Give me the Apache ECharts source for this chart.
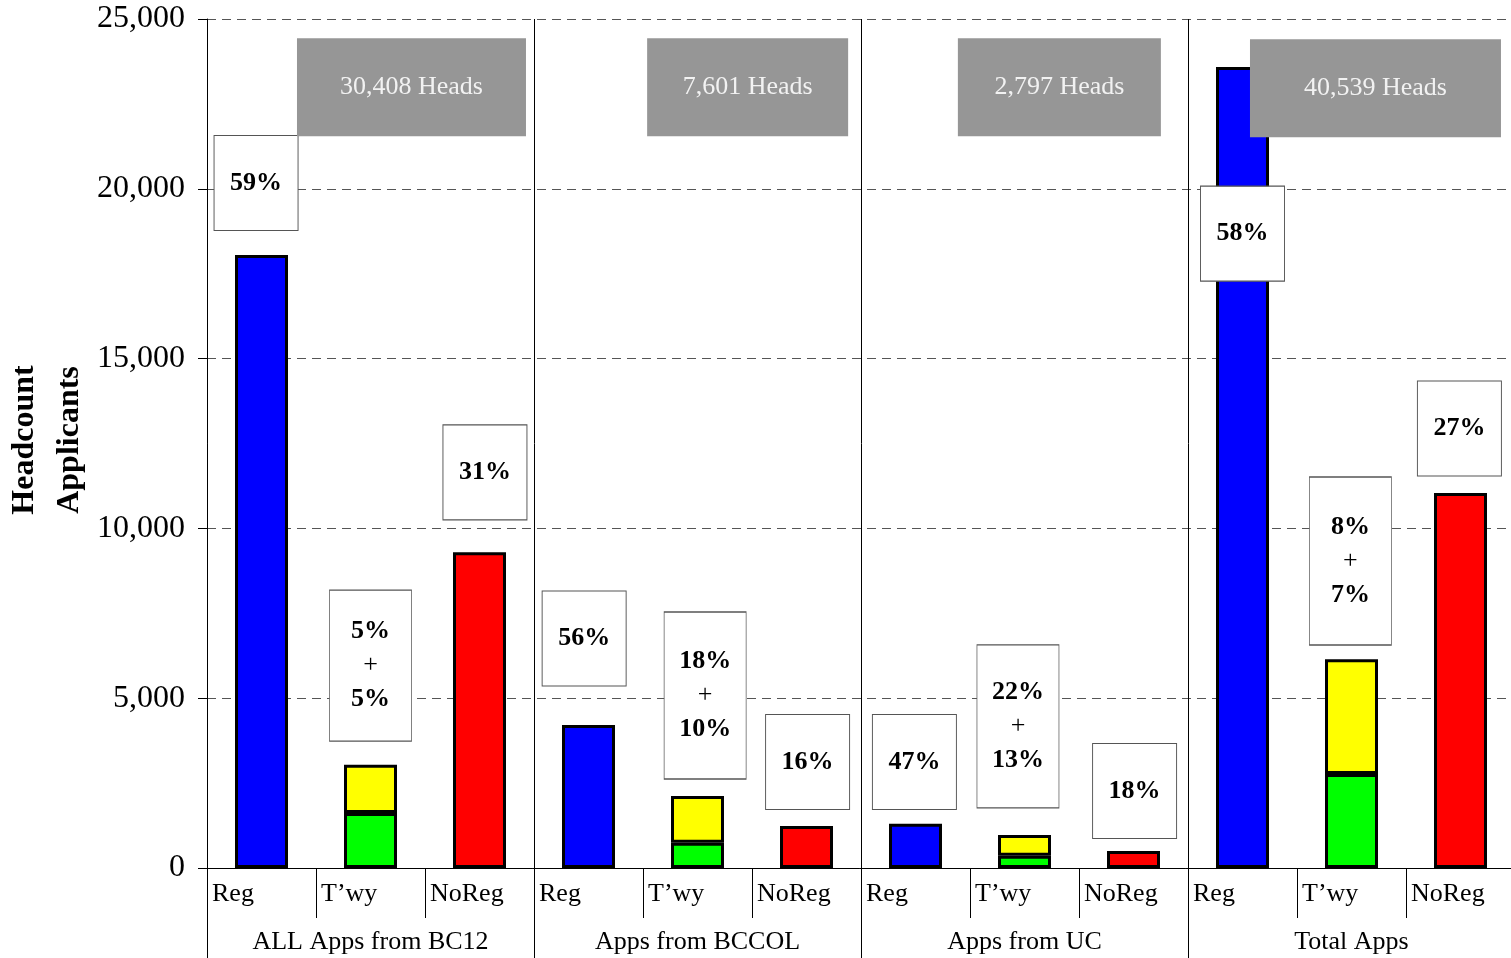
<!DOCTYPE html>
<html>
<head>
<meta charset="utf-8">
<script src="https://cdn.jsdelivr.net/npm/echarts@6/dist/echarts.min.js"></script>
<style>
html,body{margin:0;padding:0;background:#fff;}
#chart{width:1511px;height:958px;}
</style>
</head>
<body>
<div id="chart"></div>
<script>
// ---- data ----
const groups = ['ALL Apps from BC12', 'Apps from BCCOL', 'Apps from UC', 'Total Apps'];
const subCats = ['Reg', 'T\u2019wy', 'NoReg'];
const regValues = [18050, 4210, 1300, 23590];
const twyLower = [1620, 740, 360, 2770];   // green
const twyUpper = [1420, 1380, 610, 3380];  // yellow
const noRegValues = [9300, 1240, 500, 11040];
const headsLabels = ['30,408 Heads', '7,601 Heads', '2,797 Heads', '40,539 Heads'];
const regPct = ['59%', '56%', '47%', '58%'];
const twyPctTop = ['5%', '18%', '22%', '8%'];
const twyPctBottom = ['5%', '10%', '13%', '7%'];
const noRegPct = ['31%', '16%', '18%', '27%'];
const yTicks = [0, 5000, 10000, 15000, 20000, 25000];
const yTitle = 'Headcount\nApplicants';

// annotation anchor positions (x in category units, y in data units)
const regBoxPos = [[0.45, 20170], [3.46, 6760], [6.49, 3120], [9.50, 18680]];
const twyBoxPos = [[1.50, 5960], [4.57, 5080], [7.44, 4170], [10.49, 9040]];
const noRegBoxPos = [[2.55, 11650], [5.51, 3120], [8.51, 2270], [11.49, 12940]];
const headsBoxPos = [[1.876, 22990], [4.96, 22990], [7.82, 22990], [10.72, 22960]];
const twyBoxHeights = [151, 167, 163, 168];
const headsBoxWidths = [229, 201, 203, 251];

// ---- build ----
const COLORS = { reg: '#0000ff', low: '#00ff00', up: '#ffff00', noreg: '#ff0000' };
const cats = [];
const baseData = [];
const topData = [];
groups.forEach((g, i) => {
  subCats.forEach(s => cats.push(s));
  baseData.push({ value: regValues[i], itemStyle: { color: COLORS.reg } });
  baseData.push({ value: twyLower[i], itemStyle: { color: COLORS.low } });
  baseData.push({ value: noRegValues[i], itemStyle: { color: COLORS.noreg } });
  topData.push('-');
  topData.push({ value: twyUpper[i], itemStyle: { color: COLORS.up } });
  topData.push('-');
});

const boxData = [];
for (let i = 0; i < 4; i++) {
  boxData.push({ value: regBoxPos[i], symbolSize: [84, 95], label: { formatter: '{p|' + regPct[i] + '}' } });
  boxData.push({ value: twyBoxPos[i], symbolSize: [82, twyBoxHeights[i]],
    label: { formatter: '{p|' + twyPctTop[i] + '}\n{plus|+}\n{p|' + twyPctBottom[i] + '}' } });
  boxData.push({ value: noRegBoxPos[i], symbolSize: [84, 95], label: { formatter: '{p|' + noRegPct[i] + '}' } });
}
const headsData = headsBoxPos.map((p, i) => ({
  value: p, symbolSize: [headsBoxWidths[i], 98], label: { formatter: headsLabels[i] }
}));

const FONT = '"Liberation Serif", "Times New Roman", serif';

const chart = echarts.init(document.getElementById('chart'), null, { renderer: 'canvas' });
chart.setOption({
  animation: false,
  backgroundColor: '#fff',
  textStyle: { fontFamily: FONT },
  grid: { left: 207, right: -4, top: 19, bottom: 90, containLabel: false, outerBoundsMode: 'none' },
  graphic: [{
    type: 'text', x: 47, y: 440, rotation: Math.PI / 2, silent: true,
    style: { text: yTitle, fill: '#000', font: 'bold 32px ' + FONT, align: 'center', verticalAlign: 'middle', lineHeight: 45 }
  }],
  xAxis: [
    {
      type: 'category', data: cats, position: 'bottom',
      axisLine: { show: true, lineStyle: { color: '#000', width: 1 } },
      axisTick: { show: true, interval: 0, length: 50, lineStyle: { color: '#000', width: 1 } },
      axisLabel: {
        interval: 0, margin: 13, color: '#000', fontFamily: FONT, fontSize: 26,
        formatter: v => '{a|' + v + '}',
        rich: { a: { width: 99, align: 'left', fontFamily: FONT, fontSize: 26, color: '#000' } }
      },
      splitLine: { show: false }
    },
    {
      type: 'category', data: groups, position: 'bottom',
      axisLine: { show: false },
      axisTick: { show: true, interval: 0, length: 92, lineStyle: { color: '#000', width: 1 } },
      axisLabel: { interval: 0, margin: 61, color: '#000', fontFamily: FONT, fontSize: 26 },
      splitLine: { show: true, interval: 0, lineStyle: { color: '#000', width: 1, type: 'solid' } }
    },
    {
      type: 'value', min: 0, max: 12, show: false
    }
  ],
  yAxis: {
    type: 'value', min: 0, max: 25000, interval: 5000,
    axisLine: { show: true, lineStyle: { color: '#000', width: 1 } },
    axisTick: { show: true, length: 9, lineStyle: { color: '#000', width: 1 } },
    axisLabel: { margin: 22, color: '#000', fontFamily: FONT, fontSize: 32,
      formatter: v => yTicks.includes(v) ? v.toLocaleString('en-US') : '' },
    splitLine: { show: true, lineStyle: { color: '#555', width: 1, type: [9, 6] } }
  },
  series: [
    {
      type: 'bar', name: 'base', stack: 's', xAxisIndex: 0, data: baseData, barWidth: 53,
      itemStyle: { borderColor: '#000', borderWidth: 3 }, z: 2
    },
    {
      type: 'bar', name: 'top', stack: 's', xAxisIndex: 0, data: topData, barWidth: 53,
      itemStyle: { borderColor: '#000', borderWidth: 3 }, z: 2
    },
    {
      type: 'scatter', name: 'pct', xAxisIndex: 2, yAxisIndex: 0, symbol: 'rect', data: boxData, z: 5,
      itemStyle: { color: '#fff', borderColor: '#555', borderWidth: 1, opacity: 1 },
      label: {
        show: true, position: 'inside', color: '#000',
        rich: {
          p: { fontFamily: FONT, fontSize: 26, fontWeight: 'bold', color: '#000', lineHeight: 34 },
          plus: { fontFamily: FONT, fontSize: 26, color: '#000', lineHeight: 34 }
        }
      },
      emphasis: { disabled: true }, silent: true
    },
    {
      type: 'scatter', name: 'heads', xAxisIndex: 2, yAxisIndex: 0, symbol: 'rect', data: headsData, z: 6,
      itemStyle: { color: '#969696', opacity: 1 },
      label: { show: true, position: 'inside', color: '#f2f2f2', fontFamily: FONT, fontSize: 26 },
      emphasis: { disabled: true }, silent: true
    }
  ]
});
</script>
</body>
</html>
